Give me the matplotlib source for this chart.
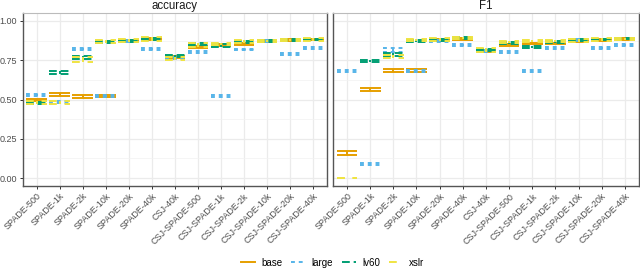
import numpy as np
import matplotlib
matplotlib.use("Agg")
import matplotlib.pyplot as plt
from matplotlib.lines import Line2D

plt.rcParams['font.family'] = ['Liberation Sans', 'DejaVu Sans']

nan = np.nan
categories = ["SPADE-500", "SPADE-1k", "SPADE-2k", "SPADE-10k", "SPADE-20k", "SPADE-40k",
              "CSJ-40k", "CSJ-SPADE-500", "CSJ-SPADE-1k", "CSJ-SPADE-2k",
              "CSJ-SPADE-10k", "CSJ-SPADE-20k", "CSJ-SPADE-40k"]
models = ["base", "large", "lv60", "xslr"]
metrics = ["accuracy", "F1"]

# accuracy: lower / upper ends of each error bar
acc_base_lo = [0.488, 0.522, 0.512, 0.515, 0.870, 0.878, 0.762, 0.830, 0.843, 0.848, 0.868, 0.872, 0.876]
acc_base_hi = [0.502, 0.542, 0.528, 0.528, 0.880, 0.890, 0.778, 0.842, 0.855, 0.860, 0.878, 0.884, 0.888]
acc_large_lo = [0.525, 0.478, 0.812, 0.515, 0.865, 0.815, 0.760, 0.796, 0.515, 0.812, 0.865, 0.782, 0.824]
acc_large_hi = [0.537, 0.490, 0.826, 0.528, 0.877, 0.827, 0.772, 0.808, 0.527, 0.824, 0.877, 0.794, 0.836]
acc_lv60_lo = [0.472, 0.665, 0.760, 0.860, 0.865, 0.880, 0.772, 0.848, 0.835, 0.858, 0.868, 0.874, 0.876]
acc_lv60_hi = [0.484, 0.680, 0.776, 0.870, 0.880, 0.890, 0.784, 0.862, 0.850, 0.870, 0.880, 0.886, 0.888]
acc_xslr_lo = [0.470, 0.470, 0.740, 0.862, 0.868, 0.875, 0.750, 0.835, 0.845, 0.860, 0.865, 0.870, 0.875]
acc_xslr_hi = [0.490, 0.490, 0.770, 0.880, 0.885, 0.898, 0.770, 0.860, 0.860, 0.880, 0.880, 0.888, 0.892]

# F1
f1_base_lo = [0.145, 0.553, 0.673, 0.673, 0.870, 0.880, 0.805, 0.840, 0.850, 0.850, 0.868, 0.872, 0.878]
f1_base_hi = [0.170, 0.575, 0.692, 0.692, 0.882, 0.892, 0.818, 0.852, 0.862, 0.862, 0.878, 0.884, 0.890]
f1_large_lo = [0.675, 0.082, 0.805, 0.675, 0.868, 0.840, 0.805, 0.797, 0.676, 0.819, 0.870, 0.819, 0.840]
f1_large_hi = [0.688, 0.096, 0.825, 0.690, 0.880, 0.852, 0.817, 0.809, 0.688, 0.831, 0.882, 0.831, 0.852]
f1_lv60_lo = [nan, 0.738, 0.776, 0.868, 0.872, 0.884, 0.806, 0.855, 0.830, 0.860, 0.870, 0.876, 0.882]
f1_lv60_hi = [nan, 0.750, 0.797, 0.880, 0.884, 0.896, 0.820, 0.868, 0.842, 0.872, 0.882, 0.888, 0.894]
f1_xslr_lo = [0.000, nan, 0.765, 0.875, 0.870, 0.882, 0.800, 0.862, 0.865, 0.868, 0.868, 0.872, 0.878]
f1_xslr_hi = [0.003, nan, 0.785, 0.888, 0.892, 0.900, 0.825, 0.875, 0.878, 0.880, 0.882, 0.890, 0.892]

data = {
    "accuracy": {"base": (acc_base_lo, acc_base_hi), "large": (acc_large_lo, acc_large_hi),
                 "lv60": (acc_lv60_lo, acc_lv60_hi), "xslr": (acc_xslr_lo, acc_xslr_hi)},
    "F1": {"base": (f1_base_lo, f1_base_hi), "large": (f1_large_lo, f1_large_hi),
           "lv60": (f1_lv60_lo, f1_lv60_hi), "xslr": (f1_xslr_lo, f1_xslr_hi)},
}

colors = {"base": "#E69F00", "large": "#56B4E9", "lv60": "#009E73", "xslr": "#F0E442"}
styles = {"base": "-", "large": (0, (2.0, 2.0)), "lv60": (0, (4.0, 2.0)), "xslr": (0, (4.0, 4.0))}
lw = 1.4
half = 0.45

fig = plt.figure(figsize=(6.4, 2.75), dpi=100)
axes = [fig.add_axes([0.0355, 0.3236, 0.4755, 0.629]),
        fig.add_axes([0.5205, 0.3236, 0.4775, 0.629])]

x = np.arange(len(categories))
for ax, metric in zip(axes, metrics):
    ax.set_xlim(-0.6, len(categories) - 0.4)
    ax.set_ylim(-0.05, 1.05)
    ax.set_yticks([0, 0.25, 0.5, 0.75, 1.0])
    ax.set_yticks([0.125, 0.375, 0.625, 0.875], minor=True)
    ax.set_xticks(x)
    ax.set_xticklabels(categories, rotation=45, ha="right", rotation_mode="anchor",
                       fontsize=6.5, color="#4d4d4d")
    ax.grid(True, which="major", color="#ebebeb", lw=0.9)
    ax.grid(True, which="minor", axis="y", color="#f2f2f2", lw=0.5)
    ax.set_axisbelow(True)
    ax.tick_params(axis="both", which="major", length=2.5, width=0.7, color="#333333",
                   labelsize=6.5, labelcolor="#4d4d4d", pad=1.5)
    ax.tick_params(which="minor", length=0)
    for side in ["left", "bottom", "right"]:
        ax.spines[side].set_color("#555555")
        ax.spines[side].set_linewidth(1.0)
    ax.spines["top"].set_color("#bbbbbb")
    ax.spines["top"].set_linewidth(0.8)
    ax.set_title(metric, fontsize=8.3, color="#1a1a1a", pad=3)
    for m in models:
        lo, hi = (np.array(v, dtype=float) for v in data[metric][m])
        kw = dict(colors=colors[m], linestyles=[styles[m]], linewidth=lw, zorder=3)
        ax.hlines(lo, x - half, x + half, **kw)
        ax.hlines(hi, x - half, x + half, **kw)
        ax.vlines(x, lo, hi, **kw)

axes[0].yaxis.set_major_formatter(matplotlib.ticker.FormatStrFormatter("%.2f"))
axes[1].tick_params(axis="y", labelleft=False, length=0)

handles = [Line2D([], [], color=colors[m], linestyle=styles[m], lw=lw) for m in models]
fig.legend(handles, models, loc="center", bbox_to_anchor=(0.52, 0.045), ncol=4,
           frameon=False, fontsize=7, handlelength=1.4, handletextpad=0.7, columnspacing=0.9)

fig.savefig("out.png", dpi=100)
